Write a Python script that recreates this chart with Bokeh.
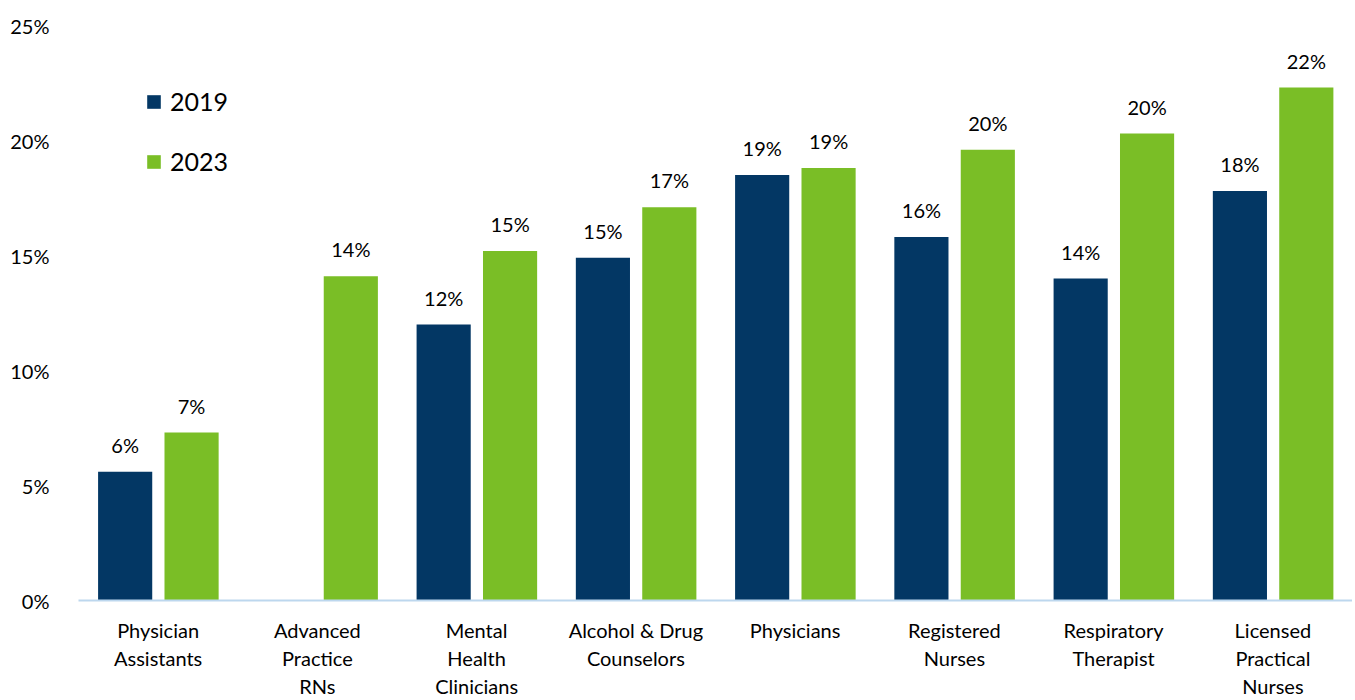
import math
from bokeh.plotting import figure
from bokeh.models import (ColumnDataSource, FactorRange, Range1d, FixedTicker, PrintfTickFormatter,
                          Legend, LegendItem, CategoricalAxis)
from bokeh.transform import dodge
from bokeh.core.properties import value
from bokeh.embed import file_html
from bokeh.resources import INLINE

categories = ["Physician Assistants", "Advanced Practice RNs", "Mental Health Clinicians",
              "Alcohol & Drug Counselors", "Physicians", "Registered Nurses",
              "Respiratory Therapist", "Licensed Practical Nurses"]
tick_lines = [["Physician", "Assistants"], ["Advanced", "Practice", "RNs"], ["Mental", "Health", "Clinicians"],
              ["Alcohol & Drug", "Counselors"], ["Physicians"], ["Registered", "Nurses"],
              ["Respiratory", "Therapist"], ["Licensed", "Practical", "Nurses"]]
values_2019 = [5.6, None, 12.0, 14.9, 18.5, 15.8, 14.0, 17.8]
values_2023 = [7.3, 14.1, 15.2, 17.1, 18.8, 19.6, 20.3, 22.3]
y_ticks = [0, 5, 10, 15, 20, 25]

NAVY = "#033764"
GREEN = "#7ABE26"
FONT = "Lato"

def lbl(v):
    return "" if v is None else "%d%%" % math.floor(v + 0.5)

src19 = ColumnDataSource(dict(cat=[c for c, v in zip(categories, values_2019) if v is not None],
                              val=[v for v in values_2019 if v is not None],
                              txt=[lbl(v) for v in values_2019 if v is not None]))
src23 = ColumnDataSource(dict(cat=categories, val=values_2023, txt=[lbl(v) for v in values_2023]))

p = figure(x_range=FactorRange(*categories, range_padding=0), y_range=Range1d(0, 25),
           width=1352, height=700, output_backend="svg", toolbar_location=None,
           min_border_left=78, min_border_right=0, min_border_top=25, min_border_bottom=100,
           x_axis_location=None)
p.outline_line_color = None
p.xgrid.grid_line_color = None
p.ygrid.grid_line_color = None

r19 = p.vbar(x=dodge("cat", -0.207, range=p.x_range), top="val", width=0.34, source=src19,
             fill_color=NAVY, line_color=None)
r23 = p.vbar(x=dodge("cat", 0.21, range=p.x_range), top="val", width=0.34, source=src23,
             fill_color=GREEN, line_color=None)

for src, off in ((src19, -0.207), (src23, 0.21)):
    p.text(x=dodge("cat", off, range=p.x_range), y="val", text="txt", source=src,
           text_align="center", text_baseline="bottom", y_offset=-15,
           text_font=value(FONT), text_font_size="20px", text_color="#000000")

p.yaxis.ticker = FixedTicker(ticks=y_ticks)
p.yaxis.formatter = PrintfTickFormatter(format="%d%%")
p.yaxis.axis_line_color = None
p.yaxis.major_tick_line_color = None
p.yaxis.minor_tick_line_color = None
p.yaxis.major_label_standoff = 23
p.yaxis.major_label_text_font = FONT
p.yaxis.major_label_text_font_size = "20px"
p.yaxis.major_label_text_color = "#000000"

# category labels: one stacked axis per text line, each on its own aligned factor range
standoffs = [17, 1, 1]
for k in range(3):
    factors = []
    for i, lines in enumerate(tick_lines):
        factors.append(lines[k] if k < len(lines) else " " * (i + 1))
    name = "line%d" % k
    p.extra_x_ranges[name] = FactorRange(*factors, range_padding=0)
    ax = CategoricalAxis(x_range_name=name)
    ax.axis_line_color = "#BDD7EE" if k == 0 else None
    ax.axis_line_width = 2
    ax.major_tick_line_color = None
    ax.minor_tick_line_color = None
    ax.major_tick_out = 0
    ax.major_tick_in = 0
    ax.major_label_standoff = standoffs[k]
    ax.major_label_text_font = FONT
    ax.major_label_text_font_size = "20px"
    ax.major_label_text_color = "#000000"
    p.add_layout(ax, "below")

legend = Legend(items=[LegendItem(label="2019", renderers=[r19]), LegendItem(label="2023", renderers=[r23])],
                location=(67, 424), orientation="vertical", padding=0, margin=0, spacing=30,
                glyph_width=17, glyph_height=17, label_height=30, label_standoff=8,
                label_text_font=FONT, label_text_font_size="25px", label_text_color="#000000",
                border_line_color=None, background_fill_alpha=0)
p.add_layout(legend)

open("out.html", "w").write(file_html(p, INLINE))
